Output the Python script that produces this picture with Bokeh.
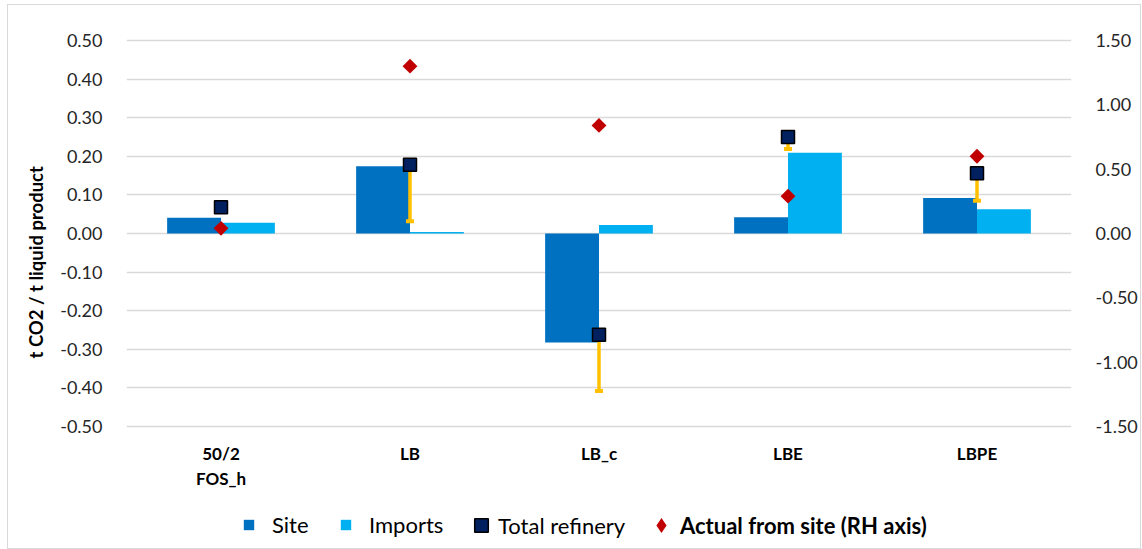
import numpy as np
from bokeh.plotting import figure
from bokeh.layouts import column
from bokeh.models import (ColumnDataSource, FactorRange, Range1d, LinearAxis, Legend,
                          LegendItem, SingleIntervalTicker, NumeralTickFormatter, Title)
from bokeh.transform import dodge
from bokeh.embed import file_html
from bokeh.resources import INLINE

# ---------------- data ----------------
categories = ["50/2\nFOS_h", "LB", "LB_c", "LBE", "LBPE"]
site = [0.041, 0.174, -0.282, 0.042, 0.092]
imports = [0.028, 0.004, 0.022, 0.209, 0.063]
total_refinery = [0.068, 0.178, -0.262, 0.250, 0.156]
total_low = [0.068, 0.032, -0.408, 0.219, 0.085]      # lower end of the yellow bar
actual_from_site = [0.04, 1.30, 0.84, 0.29, 0.60]      # right-hand axis

FONT = "Lato"
SITE_C = "#0070C0"
IMP_C = "#00B0F0"
TOT_C = "#002060"
ACT_C = "#C00000"
ERR_C = "#FFC000"
GRID_C = "#D9D9D9"

src = ColumnDataSource(dict(cat=categories, site=site, imports=imports,
                            total=total_refinery, low=total_low, actual=actual_from_site))

W, H1, H2 = 1132, 495, 48
p = figure(x_range=FactorRange(*categories, range_padding=0),
           y_range=Range1d(-0.505, 0.505),
           width=W, height=H1, output_backend="svg", toolbar_location=None,
           min_border_left=118, min_border_right=64, min_border_top=33, min_border_bottom=72)
p.outline_line_color = None
p.extra_y_ranges = {"rh": Range1d(-1.515, 1.515)}

bw = 0.285
p.vbar(x=dodge("cat", -bw / 2, range=p.x_range), top="site", width=bw,
       source=src, fill_color=SITE_C, line_color=None)
p.vbar(x=dodge("cat", bw / 2, range=p.x_range), top="imports", width=bw,
       source=src, fill_color=IMP_C, line_color=None)
p.segment(x0="cat", y0="total", x1="cat", y1="low", source=src,
          line_color=ERR_C, line_width=3.5)
p.rect(x="cat", y="low", width=8, height=4, width_units="screen", height_units="screen",
       source=src, fill_color=ERR_C, line_color=None)
p.scatter(x="cat", y="total", source=src, marker="square", size=13,
          fill_color=TOT_C, line_color="#000000", line_width=1.5)
p.scatter(x="cat", y="actual", source=src, marker="square", size=10.5,
          angle=np.pi / 4, fill_color=ACT_C, line_color=None, y_range_name="rh")

# ---------------- axes ----------------
p.xgrid.grid_line_color = None
p.ygrid.grid_line_color = GRID_C
p.ygrid.grid_line_width = 1.3
p.ygrid.ticker = SingleIntervalTicker(interval=0.1)

la = p.yaxis[0]
la.ticker = SingleIntervalTicker(interval=0.1)
la.formatter = NumeralTickFormatter(format="0.00")
ra = LinearAxis(y_range_name="rh", ticker=SingleIntervalTicker(interval=0.5),
                formatter=NumeralTickFormatter(format="0.00"))
p.add_layout(ra, "right")
for ax in (la, ra):
    ax.axis_line_color = None
    ax.major_tick_line_color = None
    ax.minor_tick_line_color = None
    ax.major_label_text_font = FONT
    ax.major_label_text_font_size = "18px"
    ax.major_label_text_color = "#262626"
la.major_label_standoff = 18
ra.major_label_standoff = 18
ra.major_label_text_align = "left"

xa = p.xaxis[0]
xa.axis_line_color = None
xa.major_tick_line_color = None
xa.major_label_text_font = FONT
xa.major_label_text_font_style = "bold"
xa.major_label_text_font_size = "17px"
xa.major_label_text_color = "#000000"
xa.major_label_standoff = 8

p.add_layout(Title(text="t CO2 / t liquid product", align="left", offset=70,
                   vertical_align="middle", standoff=20,
                   text_font=FONT, text_font_style="bold", text_font_size="18.5px",
                   text_color="#000000"), "left")

# ---------------- legend (own strip below the chart) ----------------
q = figure(width=W, height=H2, x_range=Range1d(0, W), y_range=Range1d(0, H2),
           x_axis_location=None, y_axis_location=None,
           output_backend="svg", toolbar_location=None,
           min_border=0, outline_line_color=None)
q.grid.visible = False
# legend-only renderers, kept outside the view
g_site = q.vbar(x=[-100], top=[-100], width=1, fill_color=SITE_C, line_color=None)
g_imp = q.vbar(x=[-100], top=[-100], width=1, fill_color=IMP_C, line_color=None)
g_tot = q.scatter(x=[-100], y=[-100], marker="square", size=13,
                  fill_color=TOT_C, line_color="#000000", line_width=1.5)
g_act = q.scatter(x=[-100], y=[-100], marker="diamond", size=16,
                  fill_color=ACT_C, line_color=None)


def one_legend(label, rend, x, y, gw, gh, standoff, bold=False):
    lg = Legend(items=[LegendItem(label=label, renderers=[rend])],
                location=(x, y), orientation="horizontal",
                glyph_width=gw, glyph_height=gh, label_standoff=standoff,
                padding=0, margin=0, spacing=0,
                border_line_color=None, background_fill_alpha=0,
                label_text_font=FONT, label_text_font_size="22px",
                label_text_color="#000000",
                label_text_font_style="bold" if bold else "normal")
    q.add_layout(lg, "center")


# x positions are measured from the left edge of the plot frame (the column aligns frames)
one_legend("Site", g_site, 116, 10, 13, 13, 17)
one_legend("Imports", g_imp, 213, 10, 13, 13, 17)
one_legend("Total refinery", g_tot, 338, 3, 34, 40, 0)
one_legend("Actual from site (RH axis)", g_act, 516, 3, 38, 40, 0, bold=True)

page = column(p, q, spacing=0,
              styles={"border": "1px solid #D9D9D9", "margin": "4px 0 0 7px"})

open("out.html", "w").write(file_html(page, INLINE))
